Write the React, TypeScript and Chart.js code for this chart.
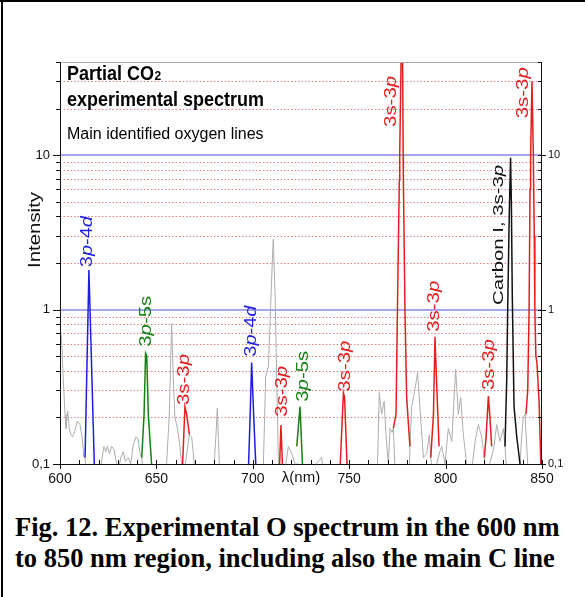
import React, { useEffect, useRef } from 'react';
import { Chart, registerables } from 'chart.js';

Chart.register(...registerables);

// ---------- axis definitions ----------
const xRange = [600, 850];
const yRange = [0.1, 40];
const xMajorTicks = [600, 650, 700, 750, 800, 850];
const yTickValues = [0.1, 1, 10];
const yTickLabels = ['0,1', '1', '10'];
const yMinorValues = [0.2, 0.3, 0.4, 0.5, 0.6, 0.7, 0.8, 0.9, 2, 3, 4, 5, 6, 7, 8, 9, 20, 30, 40];

// ---------- background (unidentified) spectrum ----------
const backgroundWl = [
  600, 600.9, 601.7, 602.6, 603.1, 604.0, 604.8, 605.7, 606.6, 607.8, 609.0, 610.4, 611.6, 612.4, 613.0, 614.0,
  619.0, 620.7, 622.8, 623.7, 624.6, 625.6, 626.8, 628.0, 629.0, 630.3, 631.5, 632.8, 633.9, 635.4, 636.7, 638.0,
  639.4, 640.5, 641.5, 642.4, 643.5, 648.0, 651.0, 653.6, 655.3, 656.7, 657.9, 658.8, 659.6, 660.9, 662.2, 663.1,
  664.0, 667.1, 668.3, 670.0, 672.6, 676.1, 679.5, 680.9, 681.6, 682.6, 684.7, 690.0, 697.7, 702.9, 705.5, 706.7,
  708.1, 709.8, 710.6, 711.6, 712.4, 713.3, 714.0, 716.7, 718.4, 720.2, 721.9, 723.3, 724.5, 727.0, 729.7, 735.7,
  736.6, 741.8, 745.2, 750.0, 753.9, 759.1, 764.6, 765.6, 766.8, 768.1, 769.1, 770.3, 771.2, 772.2, 772.9, 774.0,
  781.0, 781.5, 782.4, 783.6, 785.5, 786.7, 788.5, 790.2, 791.6, 792.3, 793.5, 797.0, 798.0, 799.7, 801.4, 803.2,
  805.2, 806.6, 807.8, 809.2, 810.9, 813.5, 815.3, 817.0, 818.7, 820.1, 821.0, 824.5, 825.1, 826.5, 828.2, 830.0,
  830.8, 832.0, 838.6, 839.5, 840.3, 841.2, 841.7, 843.0, 850.0,
];
const backgroundInt = [
  0.77, 0.62, 0.35, 0.21, 0.17, 0.22, 0.17, 0.155, 0.15, 0.165, 0.19, 0.18, 0.145, 0.11, 0.11, 0.08,
  0.08, 0.09, 0.13, 0.12, 0.13, 0.117, 0.13, 0.124, 0.106, 0.09, 0.11, 0.12, 0.104, 0.11, 0.1, 0.133,
  0.15, 0.145, 0.117, 0.11, 0.08, 0.08, 0.09, 0.085, 0.1, 0.21, 0.81, 0.35, 0.2, 0.17, 0.13, 0.1,
  0.08, 0.155, 0.15, 0.09, 0.08, 0.085, 0.08, 0.155, 0.23, 0.1, 0.08, 0.085, 0.08, 0.08, 0.1, 0.37,
  0.43, 1.6, 2.85, 1.21, 0.35, 0.1, 0.08, 0.09, 0.13, 0.117, 0.1, 0.1, 0.08, 0.08, 0.09, 0.11,
  0.09, 0.08, 0.09, 0.08, 0.08, 0.085, 0.09, 0.29, 0.21, 0.255, 0.155, 0.1, 0.17, 0.16, 0.17, 0.08,
  0.08, 0.13, 0.235, 0.28, 0.39, 0.23, 0.11, 0.117, 0.155, 0.11, 0.08, 0.12, 0.13, 0.1, 0.17, 0.14,
  0.41, 0.21, 0.27, 0.155, 0.1, 0.09, 0.14, 0.18, 0.15, 0.11, 0.08, 0.12, 0.13, 0.18, 0.14, 0.17,
  0.13, 0.08, 0.1, 0.155, 0.2, 0.21, 0.21, 0.08, 0.08,
];

// ---------- identified lines ----------
const o615Wl = [613.0, 615.0, 617.8, 618.2];
const o615Int = [0.11, 1.8, 0.1, 0.08];
const o645Wl = [642.4, 643.6, 644.4, 645.0, 645.8, 647.5, 648.0];
const o645Int = [0.11, 0.21, 0.52, 0.5, 0.21, 0.1, 0.085];
const o665Wl = [663.4, 663.6, 664.8, 665.7, 667.1];
const o665Int = [0.08, 0.1, 0.235, 0.21, 0.155];
const o700Wl = [697.7, 698.6, 699.4, 700.5, 701.7];
const o700Int = [0.09, 0.2, 0.453, 0.2, 0.09];
const o715Wl = [713.8, 714.6, 715.5];
const o715Int = [0.09, 0.179, 0.09];
const o725Wl = [722.8, 724.5, 725.9];
const o725Int = [0.13, 0.235, 0.09];
const o747Wl = [745.2, 747.0, 747.6, 749.0];
const o747Int = [0.09, 0.289, 0.27, 0.09];
const o777Wl = [772.9, 774.3, 775.0, 776.0, 776.2, 776.9, 777.3, 777.7, 778.0, 778.1, 778.95, 779.8, 781.5];
const o777Int = [0.17, 0.21, 0.95, 6.9, 10, 40, 80, 40, 10, 6.9, 0.95, 0.27, 0.13];
const o795Wl = [792.3, 793.7, 794.5, 795.4, 796.6];
const o795Int = [0.11, 0.21, 0.667, 0.32, 0.13];
const o822Wl = [820.1, 821.0, 822.2, 823.0, 823.9];
const o822Int = [0.11, 0.15, 0.275, 0.2, 0.13];
const c833Wl = [830.8, 831.7, 832.2, 833.0, 833.7, 834.1, 834.6, 835.5, 836.9, 838.6];
const c833Int = [0.13, 0.35, 1.0, 4, 9.6, 5, 1.2, 0.235, 0.15, 0.1];
const o845Wl = [841.7, 842.6, 843.3, 843.8, 844.1, 844.8, 845.5, 846.0, 846.3, 846.8, 847.4, 848.5, 849.4, 849.7];
const o845Int = [0.21, 0.3, 1.0, 6, 10, 30, 10, 3, 1.0, 0.5, 0.45, 0.25, 0.1, 0.08];

// ---------- line labels ----------
const labelTexts = ['3p-4d', '3p-5s', '3s-3p', '3p-4d', '3s-3p', '3p-5s', '3s-3p', '3s-3p', '3s-3p', '3s-3p', 'Carbon I, 3s-3p', '3s-3p'];
const labelWl = [614.5, 645.0, 664.8, 699.6, 715.4, 726.4, 748.1, 772.2, 794.5, 822.7, 827.6, 840.3];
const labelInt = [1.88, 0.574, 0.241, 0.495, 0.202, 0.253, 0.294, 15.2, 0.718, 0.301, 1.07, 17.3];
const labelKinds = ['b', 'g', 'r', 'b', 'r', 'g', 'r', 'r', 'r', 'r', 'k', 'r'];

const COLORS: Record<string, string> = {
  b: 'rgb(30,30,225)',
  g: 'rgb(20,130,20)',
  r: 'rgb(228,30,30)',
  k: '#111111',
};

const peakSeries = [
  { wl: o615Wl, int: o615Int, kind: 'b' },
  { wl: o645Wl, int: o645Int, kind: 'g' },
  { wl: o665Wl, int: o665Int, kind: 'r' },
  { wl: o700Wl, int: o700Int, kind: 'b' },
  { wl: o715Wl, int: o715Int, kind: 'r' },
  { wl: o725Wl, int: o725Int, kind: 'g' },
  { wl: o747Wl, int: o747Int, kind: 'r' },
  { wl: o777Wl, int: o777Int, kind: 'r' },
  { wl: o795Wl, int: o795Int, kind: 'r' },
  { wl: o822Wl, int: o822Int, kind: 'r' },
  { wl: c833Wl, int: c833Int, kind: 'k' },
  { wl: o845Wl, int: o845Int, kind: 'r' },
];

const FAM = "'Liberation Sans', Arial, Helvetica, sans-serif";

function drawRotated(ctx: CanvasRenderingContext2D, text: string, cx: number, y: number, targetLen: number, size: number, color: string, centered: boolean, italics: boolean) {
  const runs: { t: string; it: boolean }[] = [];
  for (const ch of text) {
    const it = italics && (ch === 'p' || ch === 'd');
    if (runs.length && runs[runs.length - 1].it === it) runs[runs.length - 1].t += ch;
    else runs.push({ t: ch, it });
  }
  ctx.save();
  let total = 0;
  const widths: number[] = [];
  for (const r of runs) {
    ctx.font = `${r.it ? 'italic ' : ''}${size}px ${FAM}`;
    const w = ctx.measureText(r.t).width;
    widths.push(w);
    total += w;
  }
  const sx = targetLen / total;
  ctx.translate(cx, y);
  ctx.rotate(-Math.PI / 2);
  ctx.scale(sx, 1);
  ctx.fillStyle = color;
  ctx.textAlign = 'left';
  ctx.textBaseline = 'alphabetic';
  let x0 = centered ? -total / 2 : 0;
  runs.forEach((r, i) => {
    ctx.font = `${r.it ? 'italic ' : ''}${size}px ${FAM}`;
    ctx.fillText(r.t, x0, size * 0.25);
    x0 += widths[i];
  });
  ctx.restore();
}

const decorPlugin = {
  id: 'spectrumDecor',
  beforeDatasetsDraw(chart: any) {
    const { ctx, chartArea: a, scales } = chart;
    const y = scales.y;
    ctx.save();
    ctx.lineWidth = 1;
    ctx.strokeStyle = 'rgba(232,105,105,0.85)';
    ctx.setLineDash([1.5, 2]);
    for (const v of yMinorValues) {
      if (v >= yRange[1]) continue;
      const py = Math.round(y.getPixelForValue(v)) + 0.5;
      ctx.beginPath();
      ctx.moveTo(a.left, py);
      ctx.lineTo(a.right, py);
      ctx.stroke();
    }
    ctx.setLineDash([]);
    ctx.strokeStyle = 'rgb(135,135,232)';
    ctx.lineWidth = 1.5;
    for (const v of [1, 10]) {
      const py = Math.round(y.getPixelForValue(v));
      ctx.beginPath();
      ctx.moveTo(a.left, py);
      ctx.lineTo(a.right, py);
      ctx.stroke();
    }
    ctx.restore();
  },
  afterDatasetsDraw(chart: any) {
    const { ctx, chartArea: a, scales } = chart;
    const x = scales.x;
    const y = scales.y;
    ctx.save();
    // frame
    ctx.lineWidth = 1;
    ctx.strokeStyle = '#a8a8a8';
    ctx.beginPath();
    ctx.moveTo(a.left, a.top + 0.5);
    ctx.lineTo(a.right, a.top + 0.5);
    ctx.stroke();
    ctx.strokeStyle = '#111';
    ctx.beginPath();
    ctx.moveTo(a.left + 0.5, a.top);
    ctx.lineTo(a.left + 0.5, a.bottom + 0.5);
    ctx.lineTo(a.right - 0.5, a.bottom + 0.5);
    ctx.lineTo(a.right - 0.5, a.top);
    ctx.stroke();
    // x ticks
    ctx.beginPath();
    for (let v = xRange[0]; v <= xRange[1]; v += 10) {
      const px = Math.round(x.getPixelForValue(v)) + 0.5;
      const major = xMajorTicks.includes(v);
      ctx.moveTo(px, a.bottom - 4);
      ctx.lineTo(px, a.bottom + (major ? 5 : 0.5));
    }
    // y ticks
    for (const v of [...yTickValues, ...yMinorValues]) {
      const py = Math.round(y.getPixelForValue(v)) + 0.5;
      const major = yTickValues.includes(v);
      ctx.moveTo(a.left - (major ? 7 : 4), py);
      ctx.lineTo(a.left, py);
      ctx.moveTo(a.right - 4, py);
      ctx.lineTo(a.right + (major ? 4 : 0), py);
    }
    ctx.stroke();

    // header text
    ctx.fillStyle = '#000';
    ctx.textAlign = 'left';
    ctx.textBaseline = 'alphabetic';
    ctx.save();
    ctx.translate(67, 80);
    ctx.scale(1, 1.1);
    ctx.font = `bold 18px ${FAM}`;
    ctx.fillText('Partial CO', 0, 0);
    const w = ctx.measureText('Partial CO').width;
    ctx.font = `bold 12px ${FAM}`;
    ctx.fillText('2', w + 0.5, 0);
    ctx.restore();
    ctx.save();
    ctx.translate(67, 106);
    ctx.scale(1, 1.1);
    ctx.font = `bold 18px ${FAM}`;
    ctx.fillText('experimental spectrum', 0, 0);
    ctx.restore();
    ctx.font = `16px ${FAM}`;
    ctx.fillText('Main identified oxygen lines', 67, 139);

    // y axis title
    drawRotated(ctx, 'Intensity', 36, 230, 76, 17, '#111', true, false);

    // line labels
    labelTexts.forEach((t, i) => {
      const cx = x.getPixelForValue(labelWl[i]);
      const by = y.getPixelForValue(labelInt[i]);
      const isLong = t.length > 6;
      drawRotated(ctx, t, cx, by, isLong ? 140 : 51, isLong ? 15.5 : 17, COLORS[labelKinds[i]], false, true);
    });
    ctx.restore();
  },
};

export default function App() {
  const canvasRef = useRef<HTMLCanvasElement | null>(null);

  useEffect(() => {
    const canvas = canvasRef.current;
    if (!canvas) return;
    const toPoints = (wl: number[], int: number[]) => wl.map((v, i) => ({ x: v, y: int[i] }));
    const datasets: any[] = peakSeries.map((p) => ({
      data: toPoints(p.wl, p.int),
      borderColor: COLORS[p.kind],
      borderWidth: 1.5,
      pointRadius: 0,
      tension: 0,
      order: 0,
    }));
    datasets.push({
      data: toPoints(backgroundWl, backgroundInt),
      borderColor: '#adadad',
      borderWidth: 1,
      pointRadius: 0,
      tension: 0,
      order: 1,
    });

    const tickCb = (v: any) => {
      const idx = yTickValues.findIndex((t) => Math.abs(t - Number(v)) < 1e-9);
      return idx >= 0 ? yTickLabels[idx] : '';
    };

    const chart = new Chart(canvas, {
      type: 'line',
      data: { datasets },
      options: {
        animation: false,
        responsive: false,
        devicePixelRatio: 1,
        layout: { padding: { top: 62, left: 0, right: 0, bottom: 0 } },
        plugins: { legend: { display: false }, tooltip: { enabled: false } },
        scales: {
          x: {
            type: 'linear',
            position: 'bottom',
            min: xRange[0],
            max: xRange[1],
            grid: { display: false, drawTicks: false },
            border: { display: false },
            afterBuildTicks: (s: any) => {
              s.ticks = xMajorTicks.map((v) => ({ value: v }));
            },
            ticks: { font: { size: 14, family: FAM }, color: '#111', padding: 7, maxRotation: 0, autoSkip: false },
            title: { display: true, text: 'λ(nm)', font: { size: 15, family: FAM }, color: '#111', padding: { top: 0, bottom: 13 } },
            afterFit: (s: any) => {
              s.height = 36;
            },
          },
          y: {
            type: 'logarithmic',
            position: 'left',
            min: yRange[0],
            max: yRange[1],
            grid: { display: false, drawTicks: false },
            border: { display: false },
            afterBuildTicks: (s: any) => {
              s.ticks = yTickValues.map((v) => ({ value: v }));
            },
            ticks: { font: { size: 13, family: FAM }, color: '#111', padding: 10, callback: tickCb, autoSkip: false },
            afterFit: (s: any) => {
              s.width = 60;
            },
          },
          y2: {
            type: 'logarithmic',
            position: 'right',
            min: yRange[0],
            max: yRange[1],
            grid: { display: false, drawTicks: false },
            border: { display: false },
            afterBuildTicks: (s: any) => {
              s.ticks = yTickValues.map((v) => ({ value: v }));
            },
            ticks: { font: { size: 11, family: FAM }, color: '#111', padding: 6, callback: tickCb, autoSkip: false },
            afterFit: (s: any) => {
              s.width = 43;
            },
          },
        },
      } as any,
      plugins: [decorPlugin],
    });
    return () => chart.destroy();
  }, []);

  return (
    <div style={{ position: 'fixed', left: 0, top: 0, width: 585, height: 597, background: '#fff', overflow: 'hidden' }}>
      <div style={{ position: 'absolute', left: 1, top: 0, width: 2, height: 597, background: '#000' }} />
      <div style={{ position: 'absolute', left: 0, top: 0, width: 585, height: 2, background: '#000' }} />
      <canvas ref={canvasRef} width={585} height={500} style={{ position: 'absolute', left: 0, top: 0, width: 585, height: 500 }} />
      <div
        style={{
          position: 'absolute',
          left: 15,
          top: 512,
          width: 570,
          fontFamily: "'Liberation Serif', 'Times New Roman', serif",
          fontWeight: 'bold',
          fontSize: 26.5,
          lineHeight: '31px',
          color: '#000',
          whiteSpace: 'nowrap',
        }}
      >
        <div>Fig. 12. Experimental O spectrum in the 600 nm</div>
        <div>to 850 nm region, including also the main C line</div>
      </div>
    </div>
  );
}
